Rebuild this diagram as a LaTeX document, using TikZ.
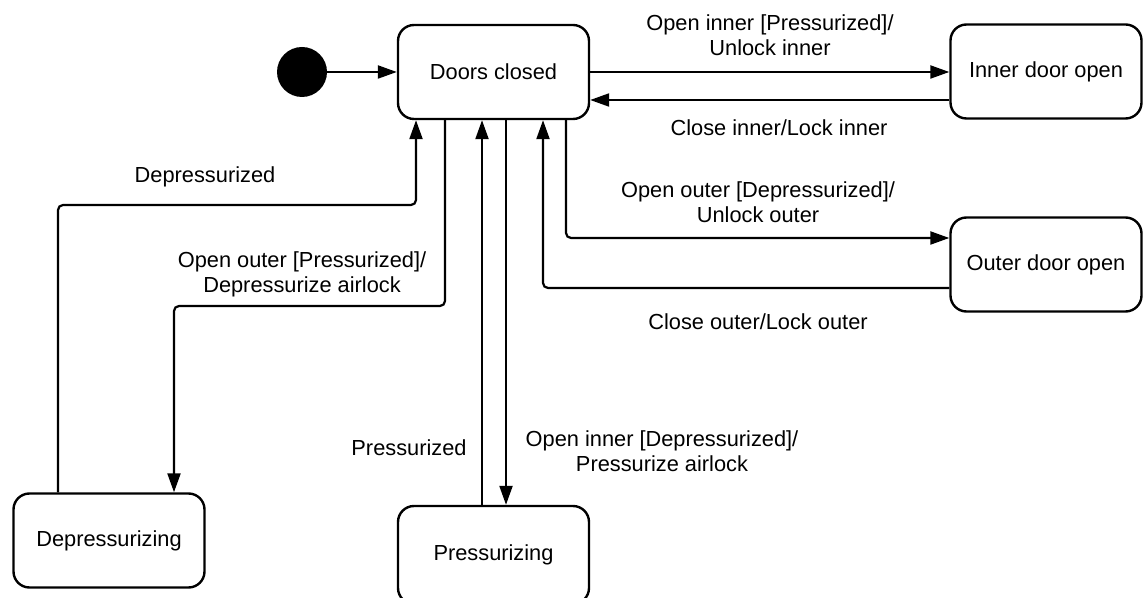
\documentclass[tikz,border=0pt]{standalone}
\usepackage{fontspec}
\setmainfont{Liberation Sans}
\usetikzlibrary{arrows.meta}

\begin{document}
\begin{tikzpicture}[x=0.5pt,y=-0.5pt,
    font=\fontsize{10.9pt}{12.6pt}\selectfont,
    state/.style={draw, line width=1.2pt, rounded corners=8pt, minimum width=95.5pt, minimum height=47pt, inner sep=0pt},
    trans/.style={line width=1.1pt, rounded corners=2.5pt, -{Triangle[length=9.5pt,width=6.5pt]}},
    lbl/.style={align=center, inner sep=0pt}]
               \useasboundingbox (0,0) rectangle (1145,598);
               % states
               \node[circle, fill=black, minimum size=25pt, inner sep=0pt] (init) at (302,72) {};
               \node[state] (closed) at (493.5,72) {Doors closed};
               \node[state] (inner) at (1046,71.5) {Inner door open};
               \node[state] (outer) at (1046,264.5) {Outer door open};
               \node[state] (depr) at (109,540.5) {Depressurizing};
               \node[state, minimum height=49pt] (press) at (493.5,555) {Pressurizing};
               % transitions
               \draw[trans] (init) -- (closed);
               \draw[trans] (closed.east) -- (closed.east -| inner.west);
               \draw[trans] (inner.west |- 0,100) -- (closed.east |- 0,100);
               \draw[trans] (closed.south -| 566,0) |- (outer.west |- 0,238);
               \draw[trans] (outer.west |- 0,288) -| (closed.south -| 543,0);
               \draw[trans] (depr.north -| 58,0) |- (416,205) -- (closed.south -| 416,0);
               \draw[trans] (closed.south -| 445,0) |- (174,306) -- (depr.north -| 174,0);
               \draw[trans] (press.north -| 482,0) -- (closed.south -| 482,0);
               \draw[trans] (closed.south -| 506,0) -- (press.north -| 506,0);
               % labels
               \node[lbl] (lopeninner) at (770,35) {Open inner [Pressurized]/\\Unlock inner};
               \node[lbl] (lcloseinner) at (779,128) {Close inner/Lock inner};
               \node[lbl] (lopenouter) at (758,202) {Open outer [Depressurized]/\\Unlock outer};
               \node[lbl] (lcloseouter) at (758,322) {Close outer/Lock outer};
               \node[lbl] (ldepr) at (205,177) {Depressurized};
               \node[lbl] (ldeprair) at (302,274) {Open outer [Pressurized]/\\Depressurize airlock};
               \node[lbl] (lpress) at (409,448) {Pressurized};
               \node[lbl] (lpressair) at (662,451) {Open inner [Depressurized]/\\Pressurize airlock};
           \end{tikzpicture}
\end{document}
